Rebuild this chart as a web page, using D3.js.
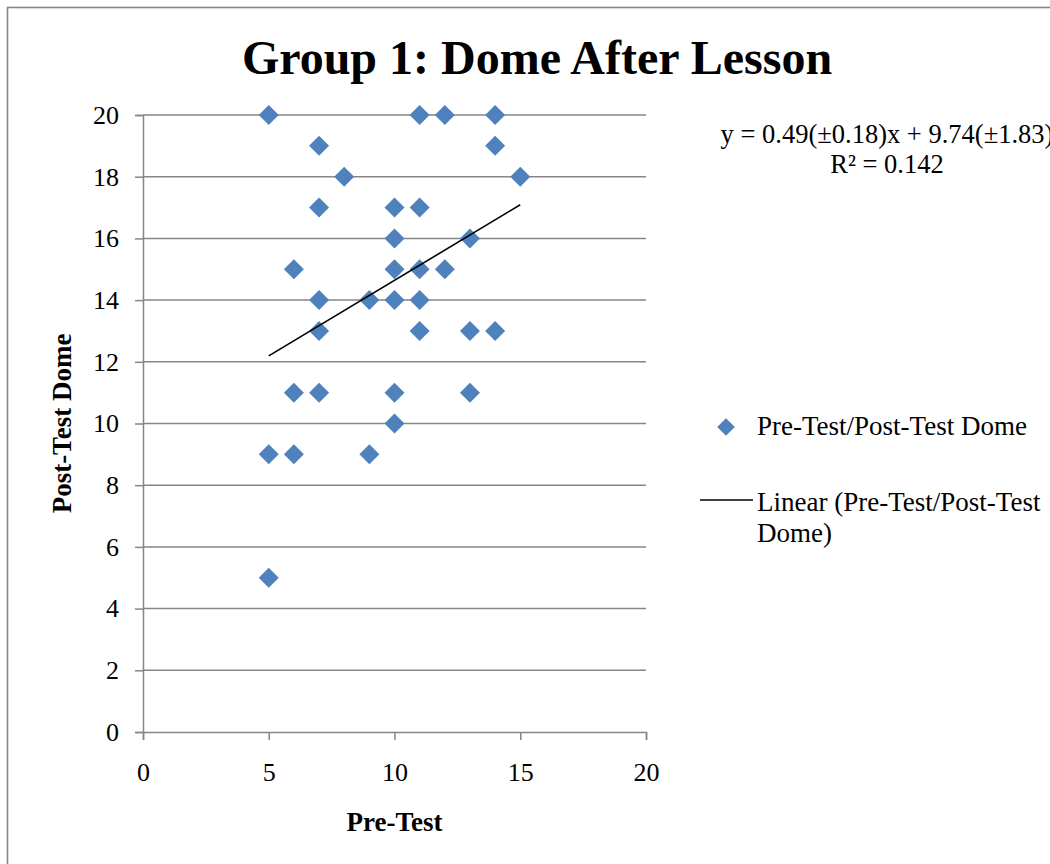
<!DOCTYPE html>
<html>
<head>
<meta charset="utf-8">
<script src="https://cdn.jsdelivr.net/npm/d3@7"></script>
<style>
  html, body { margin: 0; padding: 0; background: #fff; }
  svg { display: block; }
</style>
</head>
<body>
<svg id="chart"></svg>
<script>
// data
const preTest  = [5, 11, 12, 14, 7, 14, 8, 15, 7, 10, 11, 10, 13, 6, 10, 11, 12, 7, 9, 10, 11, 7, 11, 13, 14, 6, 7, 10, 13, 10, 5, 6, 9, 5];
const postTest = [20, 20, 20, 20, 19, 19, 18, 18, 17, 17, 17, 16, 16, 15, 15, 15, 15, 14, 14, 14, 14, 13, 13, 13, 13, 11, 11, 11, 11, 10, 9, 9, 9, 5];
const xTicks = [0, 5, 10, 15, 20];
const yTicks = [0, 2, 4, 6, 8, 10, 12, 14, 16, 18, 20];
const trendSlope = 0.49;
const trendIntercept = 9.74;
const equationLines = ["y = 0.49(±0.18)x + 9.74(±1.83)", "R² = 0.142"];
const legendLabels = ["Pre-Test/Post-Test Dome", "Linear (Pre-Test/Post-Test", "Dome)"];

const W = 1050, H = 864;
const marge = { top: 115, left: 143, right: 646, bottom: 732 };
const serif = "'Liberation Serif', 'Times New Roman', serif";
const blue = "#4F81BD";
const grey = "#868686";

const svg = d3.select("#chart").attr("width", W).attr("height", H);

// outer frame (runs off the right/bottom edge like the original)
svg.append("rect")
  .attr("x", 7.5).attr("y", 7.5)
  .attr("width", 1100).attr("height", 900)
  .attr("fill", "none").attr("stroke", grey).attr("stroke-width", 1.6);

const x = d3.scaleLinear().domain([0, 20]).range([marge.left, marge.right]);
const y = d3.scaleLinear().domain([0, 20]).range([marge.bottom, marge.top]);

// horizontal gridlines
svg.append("g").selectAll("line")
  .data(yTicks.filter(d => d > 0))
  .enter().append("line")
  .attr("x1", marge.left).attr("x2", marge.right)
  .attr("y1", d => y(d)).attr("y2", d => y(d))
  .attr("stroke", grey).attr("stroke-width", 1.5);

// y axis
const yAxis = d3.axisLeft(y).tickValues(yTicks).tickSize(8).tickPadding(16).tickFormat(d3.format("d"));
const gy = svg.append("g").attr("transform", `translate(${marge.left},0)`).call(yAxis);
gy.attr("font-family", null);
gy.select(".domain").attr("stroke", grey).attr("stroke-width", 1.5);
gy.selectAll(".tick line").attr("stroke", grey).attr("stroke-width", 1.5);
gy.selectAll(".tick text").style("font-family", serif).style("font-size", "26px").attr("fill", "#000");

// x axis
const xAxis = d3.axisBottom(x).tickValues(xTicks).tickSize(8).tickPadding(23).tickFormat(d3.format("d"));
const gx = svg.append("g").attr("transform", `translate(0,${marge.bottom})`).call(xAxis);
gx.attr("font-family", null);
gx.select(".domain").attr("stroke", grey).attr("stroke-width", 1.5);
gx.selectAll(".tick line").attr("stroke", grey).attr("stroke-width", 1.5);
gx.selectAll(".tick text").style("font-family", serif).style("font-size", "26px").attr("fill", "#000")
  .attr("dy", null).attr("y", 49);

// points
const diamond = d3.symbol().type(d3.symbolSquare).size(200);
svg.append("g").selectAll("path")
  .data(preTest.map((d, i) => [d, postTest[i]]))
  .enter().append("path")
  .attr("d", diamond)
  .attr("transform", d => `translate(${x(d[0])},${y(d[1])}) rotate(45)`)
  .attr("fill", blue);

// linear trendline
const xMin = d3.min(preTest), xMax = d3.max(preTest);
svg.append("line")
  .attr("x1", x(xMin)).attr("y1", y(trendSlope * xMin + trendIntercept))
  .attr("x2", x(xMax)).attr("y2", y(trendSlope * xMax + trendIntercept))
  .attr("stroke", "#000").attr("stroke-width", 1.6);

// title
svg.append("text")
  .attr("x", 537).attr("y", 74)
  .attr("text-anchor", "middle")
  .style("font-family", serif).attr("font-weight", "bold").attr("font-size", 48)
  .text("Group 1: Dome After Lesson");

// axis titles
svg.append("text")
  .attr("transform", `translate(71,${(marge.top + marge.bottom) / 2}) rotate(-90)`)
  .attr("text-anchor", "middle")
  .style("font-family", serif).attr("font-weight", "bold").attr("font-size", 27)
  .text("Post-Test Dome");
svg.append("text")
  .attr("x", (marge.left + marge.right) / 2).attr("y", 831)
  .attr("text-anchor", "middle")
  .style("font-family", serif).attr("font-weight", "bold").attr("font-size", 27)
  .text("Pre-Test");

// trendline equation
svg.append("g").selectAll("text")
  .data(equationLines)
  .enter().append("text")
  .attr("x", 887).attr("y", (d, i) => 143 + i * 30)
  .attr("text-anchor", "middle")
  .style("font-family", serif).attr("font-size", 26.5)
  .text(d => d);

// legend
const legend = svg.append("g");
legend.append("path")
  .attr("d", d3.symbol().type(d3.symbolSquare).size(156))
  .attr("transform", "translate(726,427) rotate(45)")
  .attr("fill", blue);
legend.append("line")
  .attr("x1", 700).attr("x2", 753).attr("y1", 500).attr("y2", 500)
  .attr("stroke", "#000").attr("stroke-width", 1.6);
legend.selectAll("text")
  .data(legendLabels)
  .enter().append("text")
  .attr("x", 757)
  .attr("y", (d, i) => [435, 511, 542][i])
  .style("font-family", serif).attr("font-size", 27)
  .text(d => d);
</script>
</body>
</html>
